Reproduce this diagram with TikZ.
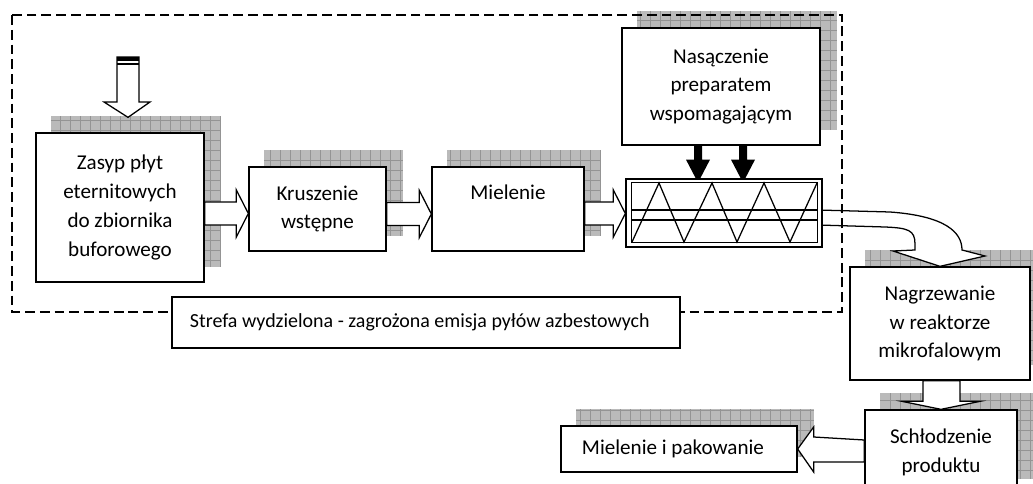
\documentclass[tikz,border=0pt]{standalone}
\usepackage{fontspec}
\setmainfont{Carlito}
\usetikzlibrary{calc}
\pgfdeclarelayer{shadows}
\pgfdeclarelayer{flow}
\pgfdeclarelayer{zonelayer}
\pgfsetlayers{shadows,flow,zonelayer,main}

\tikzset{
  box/.style={draw, line width=0.9pt, fill=white, align=center, inner sep=2pt,
    font=\fontsize{15}{20.5}\selectfont},
  hollow/.style={draw, line width=0.9pt, fill=white, line join=miter},
  shadowfill/.style={fill=black!27},
  shadowgrid/.style={draw=black!42, line width=0.35pt},
  zone/.style={draw, line width=0.8pt, dash pattern=on 7pt off 3.5pt},
}

% shadow up and to the right of a box
\newcommand{\boxshadow}[1]{%
  \fill[shadowfill] ($(#1.south west)+(16,-16)$) rectangle ($(#1.north east)+(16,-16)$);
  \draw[shadowgrid, step=0.25cm] ($(#1.south west)+(16,-16)$) grid ($(#1.north east)+(16,-16)$);
}

% fat hollow arrow to the right, axis at height #3
\newcommand{\fatright}[3]{%
  \draw[hollow] ($(#1.east |- 0,#3)+(0,-11.5)$) -- ($(#2.west |- 0,#3)+(-12,-11.5)$)
    -- ($(#2.west |- 0,#3)+(-12,-23.5)$) -- (#2.west |- 0,#3)
    -- ($(#2.west |- 0,#3)+(-12,23.5)$) -- ($(#2.west |- 0,#3)+(-12,11.5)$)
    -- ($(#1.east |- 0,#3)+(0,11.5)$) -- cycle;
}

\begin{document}
\begin{tikzpicture}[x=0.025cm, y=-0.025cm]
  \useasboundingbox (0,0) rectangle (1033,484);

  % process steps
  \node[box, minimum width=4.2cm, minimum height=3.725cm] (zasyp) at (120,207.5)
    {Zasyp płyt\\eternitowych\\do zbiornika\\buforowego};
  \node[box, minimum width=3.425cm, minimum height=2.1cm] (krusz) at (317.5,209)
    {Kruszenie\\wstępne};
  \node[box, minimum width=3.8cm, text height=22.8pt, text depth=36.9pt, inner ysep=0pt] (miel) at (508,209)
    {Mielenie};
  \node[box, minimum width=4.95cm, minimum height=2.925cm] (nasy) at (721,86.5)
    {Nasączenie\\preparatem\\wspomagającym};
  \node[box, minimum width=4.9cm, minimum height=1.7cm] (screw) at (724,213) {};
  \node[box, minimum width=4.5cm, minimum height=2.825cm] (nagrz) at (940,323.5)
    {Nagrzewanie\\w reaktorze\\mikrofalowym};
  \node[box, minimum width=3.8cm, minimum height=2.1cm] (schl) at (941,452)
    {Schłodzenie\\produktu};
  \node[box, inner xsep=0.525cm, minimum height=1.15cm] (pak) at (679,449)
    {\makebox[4.85cm][l]{Mielenie i pakowanie}};
  \node[box, inner xsep=0.45cm, minimum height=1.275cm, font=\fontsize{14.2}{20}\selectfont] (strefa) at (426,322.5)
    {\makebox[11.8cm][l]{Strefa wydzielona - zagrożona emisja pyłów azbestowych}};
  \coordinate (feed) at (128,57);

  % screw conveyor
  \draw[line width=0.9pt] ($(screw.south west)+(6,-5)$) rectangle ($(screw.north east)+(-5,4)$);
  \draw[line width=0.9pt] (632,210) -- (817,210);
  \draw[line width=0.9pt] (632,220) -- (817,220);
  \draw[line width=0.9pt] (632,242) foreach \x/\y in {659/183,684/242,712/183,737/242,764/183,790/242,817/183} { -- (\x,\y) };

  \begin{pgfonlayer}{shadows}
    \foreach \n in {zasyp,krusz,miel,nasy,nagrz,schl,pak} { \boxshadow{\n} }
  \end{pgfonlayer}

  \begin{pgfonlayer}{flow}
    % feed arrow
    \draw[hollow] ($(feed)+(-11,0)$) -- (117,102) -- (104,102) -- ($(zasyp.north)+(8,-15)$)
      -- (150,102) -- (139,102) -- ($(feed)+(11,0)$) -- cycle;
    \fill ($(feed)+(-11,0)$) rectangle ($(feed)+(11,4)$);
    \draw[line width=0.9pt] ($(feed)+(-11,7)$) -- ($(feed)+(11,7)$);

    \fatright{zasyp}{krusz}{213.5}
    \fatright{krusz}{miel}{214}
    \fatright{miel}{screw}{213.5}

    % dosing from the top
    \foreach \dx in {-23,22}
      \fill ($(nasy.south)+(\dx,0)$) ++(-4,0) -- ++(0,14) -- ++(-8,0) -- ++(12,23)
        -- ++(12,-23) -- ++(-8,0) -- ++(0,-14) -- cycle;

    % curved arrow to the reactor
    \draw[hollow] ($(screw.east)+(-5,-3)$) -- (890,212) .. controls (945,216) and (962,232) .. (962,250)
      -- (985,256) -- (nagrz.north) -- (893,251) -- (915,250) -- (915,244)
      .. controls (915,230) and (908,228) .. (885,227) -- ($(screw.east)+(-5,12)$) -- cycle;

    % reactor -> cooling
    \draw[hollow] ($(nagrz.south)+(-17,0)$) -- ($(schl.north)+(-18,-8)$) -- ($(schl.north)+(-39,-8)$)
      -- (schl.north) -- ($(schl.north)+(39,-8)$) -- ($(schl.north)+(19,-8)$)
      -- ($(nagrz.south)+(20,0)$) -- cycle;

    % cooling -> milling and packing
    \draw[hollow] ($(schl.west)+(0,-12)$) -- ($(pak.east)+(16,-12)$) -- ($(pak.east)+(16,-22)$)
      -- (pak.east) -- ($(pak.east)+(16,23)$) -- ($(pak.east)+(16,13)$)
      -- ($(schl.west)+(0,10)$) -- cycle;
  \end{pgfonlayer}

  \begin{pgfonlayer}{zonelayer}
    \draw[zone] (12,15) rectangle (842,312);
  \end{pgfonlayer}
\end{tikzpicture}
\end{document}
